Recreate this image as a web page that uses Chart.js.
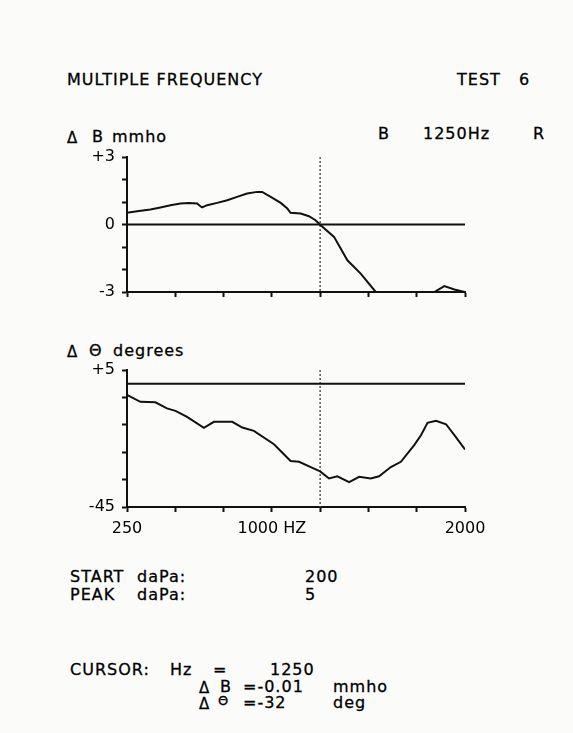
<!DOCTYPE html>
<html lang="en">
<head>
<meta charset="UTF-8">
<title>Multiple Frequency - Test 6</title>
<script src="https://cdn.jsdelivr.net/npm/chart.js"></script>
<style>
  body { margin: 0; background: #fbfbfa; font-family: "DejaVu Sans", sans-serif; color: #000; }
  #page { position: relative; width: 573px; height: 733px; overflow: hidden; }
  .t { position: absolute; font-size: 16px; line-height: 16px; white-space: pre; letter-spacing: 1px; -webkit-text-stroke: 0.3px #000; }
  .sym { font-size: 15px; }
  .small { font-size: 13px; }
  .box { position: absolute; }
</style>
</head>
<body>
<div id="page">
  <div class="t" style="left:67px; top:72px">MULTIPLE FREQUENCY</div>
  <div class="t" style="left:457px; top:72px">TEST</div>
  <div class="t" style="left:519px; top:72px">6</div>

  <div class="t sym" style="left:67px; top:130px">Δ</div>
  <div class="t" style="left:92px; top:129px">B</div>
  <div class="t" style="left:112px; top:129px">mmho</div>
  <div class="t" style="left:378px; top:126px">B</div>
  <div class="t" style="left:423px; top:126px">1250Hz</div>
  <div class="t" style="left:533px; top:126px">R</div>

  <div class="box" style="left:60px; top:140px"><canvas id="bChart" width="440" height="170"></canvas></div>

  <div class="t sym" style="left:67px; top:344px">Δ</div>
  <div class="t" style="left:89px; top:343px">Θ</div>
  <div class="t" style="left:113px; top:343px">degrees</div>

  <div class="box" style="left:60px; top:355px"><canvas id="thetaChart" width="440" height="190"></canvas></div>

  <div class="t" style="left:70px; top:569px">START</div>
  <div class="t" style="left:137px; top:569px">daPa:</div>
  <div class="t" style="left:305px; top:569px">200</div>
  <div class="t" style="left:70px; top:587px">PEAK</div>
  <div class="t" style="left:137px; top:587px">daPa:</div>
  <div class="t" style="left:305px; top:587px">5</div>

  <div class="t" style="left:70px; top:662px">CURSOR:</div>
  <div class="t" style="left:170px; top:662px">Hz</div>
  <div class="t" style="left:213px; top:662px">=</div>
  <div class="t" style="left:270px; top:662px">1250</div>
  <div class="t sym" style="left:199px; top:680px">Δ</div>
  <div class="t" style="left:220px; top:679px">B</div>
  <div class="t" style="left:243px; top:679px">=-0.01</div>
  <div class="t" style="left:333px; top:679px">mmho</div>
  <div class="t sym" style="left:199px; top:696px">Δ</div>
  <div class="t small" style="left:218px; top:693px">Θ</div>
  <div class="t" style="left:243px; top:695px">=-32</div>
  <div class="t" style="left:333px; top:695px">deg</div>
</div>

<script>
  // Frequency axis (Hz), shared by both panels
  const freqTicks = [250, 500, 750, 1000, 1250, 1500, 1750, 2000];
  const freqLabelled = [250, 1000, 2000];
  const freqLabelText = ["250", "1000 HZ", "2000"];
  const cursorHz = 1250;

  // Delta B (mmho) trace
  const bFreq = [250, 302, 371, 423, 475, 527, 570, 613, 630, 639, 665, 717, 769, 820, 872, 924, 950, 994, 1046, 1080, 1097, 1149, 1192, 1226, 1250, 1322, 1391, 1460, 1538, 1700, 1841, 1893, 1945, 2000];
  const bValues = [0.52, 0.59, 0.67, 0.76, 0.86, 0.93, 0.96, 0.93, 0.81, 0.76, 0.86, 0.96, 1.08, 1.23, 1.38, 1.45, 1.45, 1.23, 0.96, 0.71, 0.52, 0.49, 0.37, 0.19, -0.01, -0.55, -1.59, -2.18, -3.0, -3.0, -3.0, -2.74, -2.89, -3.0];
  const bTicks = [-3, -2, -1, 0, 1, 2, 3];
  const bLabelled = [3, 0, -3];
  const bLabelText = ["+3", "0", "-3"];

  // Delta theta (degrees) trace
  const thetaFreq = [250, 319, 397, 457, 501, 561, 648, 700, 795, 847, 907, 1011, 1097, 1141, 1210, 1250, 1296, 1339, 1400, 1452, 1512, 1555, 1616, 1668, 1737, 1772, 1806, 1850, 1902, 1945, 2000];
  const thetaValues = [-4.1, -6.6, -6.8, -9.0, -9.9, -12.1, -16.1, -13.9, -13.9, -16.0, -17.2, -22.1, -28.2, -28.5, -30.7, -32, -34.6, -33.8, -35.9, -34.0, -34.6, -33.8, -30.4, -28.5, -22.4, -18.8, -14.3, -13.5, -14.8, -18.8, -24.0];
  const thetaTicks = [-45, -35, -25, -15, -5, 5];
  const thetaLabelled = [5, -45];
  const thetaLabelText = ["+5", "-45"];

  Chart.defaults.font.family = "DejaVu Sans";
  Chart.defaults.font.size = 16;
  Chart.defaults.color = "#000";

  function fixedTicks(values) {
    return function (scale) { scale.ticks = values.map(v => ({ value: v })); };
  }

  function labelFor(values, texts) {
    return function (value) {
      const i = values.indexOf(value);
      return i < 0 ? "" : texts[i];
    };
  }

  function toPoints(xs, ys) {
    return xs.map((x, i) => ({ x: x, y: ys[i] }));
  }

  function makePanel(id, series, yMin, yMax, yTicks, yLabelled, yLabelText, showX, xHeight, padTop) {
    const axisLine = { display: true, color: "#111", width: 2 };
    const tickMarks = { drawOnChartArea: false, drawTicks: true, tickLength: 5, tickColor: "#111", tickWidth: 2 };
    return new Chart(document.getElementById(id), {
      type: "line",
      data: {
        datasets: [
          { data: series, borderColor: "#111", borderWidth: 2, pointRadius: 0, tension: 0 },
          // zero reference line
          { data: [{ x: 250, y: 0 }, { x: 2000, y: 0 }], borderColor: "#111", borderWidth: 2, pointRadius: 0 },
          // cursor marker
          { data: [{ x: cursorHz, y: yMax }, { x: cursorHz, y: yMin }], borderColor: "#555", borderWidth: 1.5, borderDash: [2, 2], pointRadius: 0 }
        ]
      },
      options: {
        responsive: false,
        animation: false,
        layout: { padding: { top: padTop, right: 35, left: 0, bottom: 0 } },
        plugins: { legend: { display: false }, tooltip: { enabled: false } },
        scales: {
          x: {
            type: "linear", min: 250, max: 2000,
            afterBuildTicks: fixedTicks(freqTicks),
            // keep the end labels from shrinking the plot area
            afterFit: s => { s.height = xHeight; s.paddingLeft = 0; s.paddingRight = 0; },
            border: axisLine,
            grid: tickMarks,
            ticks: { display: showX, padding: 7, maxRotation: 0, autoSkip: false, callback: labelFor(freqLabelled, freqLabelText) }
          },
          y: {
            type: "linear", min: yMin, max: yMax,
            afterBuildTicks: fixedTicks(yTicks),
            afterFit: s => { s.width = 67; s.paddingTop = 0; s.paddingBottom = 0; },
            border: axisLine,
            grid: tickMarks,
            ticks: { padding: 7, autoSkip: false, callback: labelFor(yLabelled, yLabelText) }
          }
        }
      }
    });
  }

  makePanel("bChart", toPoints(bFreq, bValues), -3, 3, bTicks, bLabelled, bLabelText, false, 18, 17);
  makePanel("thetaChart", toPoints(thetaFreq, thetaValues), -45, 5, thetaTicks, thetaLabelled, thetaLabelText, true, 38, 15);
</script>
</body>
</html>
